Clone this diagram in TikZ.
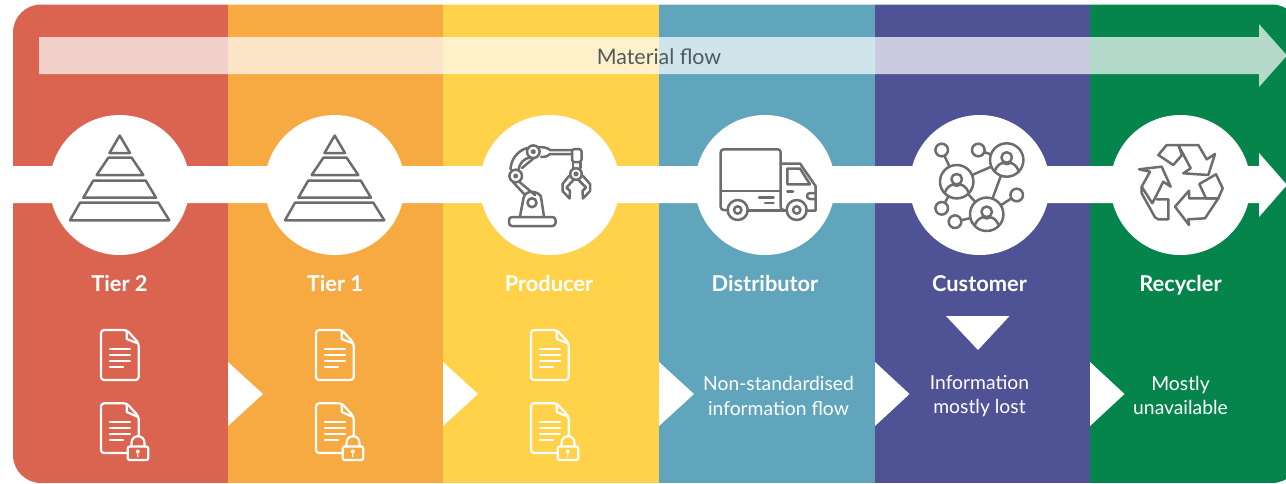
\documentclass[tikz,border=0pt]{standalone}
\usepackage{fontspec}
\setmainfont{Lato}
\definecolor{cred}{HTML}{DB6451}
\definecolor{corange}{HTML}{F6AA41}
\definecolor{cyellow}{HTML}{FFD24A}
\definecolor{cteal}{HTML}{60A5BC}
\definecolor{cindigo}{HTML}{505296}
\definecolor{cgreen}{HTML}{05854B}
\definecolor{cicon}{HTML}{6D6D6D}
\definecolor{cflow}{HTML}{4F5A5E}
\tikzset{
  iconline/.style={draw=cicon,line width=2.5pt,line join=round,line cap=round},
  docline/.style={draw=white,line width=2.2pt,line join=round,line cap=round},
  whitedisc/.style={circle,fill=white,minimum size=140pt,inner sep=0pt},
  stage/.style={text=white,font=\bfseries\fontsize{21.8}{24}\selectfont,anchor=base},
  note/.style={text=white,font=\fontsize{19.3}{24.5}\selectfont,align=center,anchor=center},
}
\newcommand{\pyramidicon}[1]{%
  \begin{scope}[shift={(#1,0)},iconline]
    \draw (119.7,135.5) -- (130,153) -- (109.5,153) -- cycle;
    \draw (108.5,157.5) -- (131.5,157.5) -- (143.3,175) -- (96.7,175) -- cycle;
    \draw (93.3,180.5) -- (145.7,180.5) -- (156,197.7) -- (83.3,197.7) -- cycle;
    \draw (80,202.7) -- (158.3,202.7) -- (169.3,220.3) -- (70,220.3) -- cycle;
  \end{scope}}
\newcommand{\docbody}[2]{%
  \begin{scope}[shift={(#1,#2)},docline]
    \draw[rounded corners=3pt] (126.7,330) -- (101,330) -- (101,380) -- (138.7,380) -- (138.7,343) -- cycle;
    \draw (126.7,331) -- (126.7,339) -- (137,343);
    \draw (110,349.3) -- (130,349.3) (110,355) -- (130,355) (110,361) -- (130,361) (110,367.3) -- (123,367.3);
  \end{scope}}
\newcommand{\lockdoc}[1]{%
  \begin{scope}[shift={(#1,0)},docline]
    \draw[rounded corners=3pt] (127.5,453) -- (101,453) -- (101,403.3) -- (126.7,403.3) -- (138.7,416.5) -- (138.7,436);
    \draw (126.7,404) -- (126.7,412) -- (137,416.5);
    \draw (110,422.3) -- (130,422.3) (110,428) -- (130,428) (110,434) -- (130,434) (110,440.3) -- (123,440.3);
    \draw[rounded corners=2pt] (127.7,446.5) rectangle (148.3,460);
    \draw (131.5,446.5) -- (131.5,443) .. controls (131.5,434) and (144.5,434) .. (144.5,443) -- (144.5,446.5);
    \draw[line width=1.3pt] (137.8,451.5) circle[radius=1.5] (137.8,453) -- (137.8,456.5);
  \end{scope}}
\newcommand{\person}[3]{% x y radius
  \draw[iconline] (#1,#2) circle[radius=#3];
  \draw[iconline] (#1,#2-2.5) circle[radius=5.3];
  \draw[iconline] (#1-12,#2+11) .. controls (#1-10,#2+5.5) and (#1-6,#2+3) .. (#1-3.5,#2+3)
    .. controls (#1-1,#2+4.5) and (#1+1,#2+4.5) .. (#1+3.5,#2+3)
    .. controls (#1+6,#2+3) and (#1+10,#2+5.5) .. (#1+12,#2+11);}
\newcommand{\smalldot}[2]{\draw[iconline,fill=white] (#1,#2) circle[radius=6.3];}
\begin{document}
\begin{tikzpicture}[x=1pt,y=-1pt]
\useasboundingbox (0,0) rectangle (1286,483);
\begin{scope}
  \clip[rounded corners=28pt] (13,483) -- (13,4.5) -- (1300,4.5) -- (1300,483) -- cycle;
  \fill[cred] (13,0) rectangle (228,483);
  \fill[corange] (228,0) rectangle (443,483);
  \fill[cyellow] (443,0) rectangle (659,483);
  \fill[cteal] (659,0) rectangle (875,483);
  \fill[cindigo] (875,0) rectangle (1090,483);
  \fill[cgreen] (1090,0) rectangle (1286,483);
\end{scope}
% material flow arrow
\fill[white,opacity=0.7] (39,37) -- (1259,37) -- (1259,24) -- (1287,55.5) -- (1259,87) -- (1259,74) -- (39,74) -- cycle;
\node[text=cflow,font=\fontsize{21.4}{24}\selectfont] (flow) at (659,57) {Material flow};
% white band
\fill[white] (13,166) -- (1259,166) -- (1259,153) -- (1287,185) -- (1259,217) -- (1259,203) -- (13,203) -- cycle;
% discs
\node[whitedisc] (d1) at (119.7,185) {};
\node[whitedisc] (d2) at (334.7,185) {};
\node[whitedisc] (d3) at (549.7,185) {};
\node[whitedisc] (d4) at (765,185) {};
\node[whitedisc] (d5) at (979.7,185) {};
\node[whitedisc] (d6) at (1180.5,185) {};
% pyramids
\pyramidicon{0}
\pyramidicon{215}
% robot
\begin{scope}[iconline]
  \draw[rounded corners=3pt] (509,217) rectangle (555.5,226);
  \draw (520,216.5) -- (523.5,198) .. controls (526,188) and (540,192) .. (541,197) -- (544,216.5);
  \draw (532,202.7) circle[radius=4.5];
  \draw (519.5,182) -- (535,195) (513,182) -- (525,195);
  \draw (515.7,176) circle[radius=6.3] (515.7,176) circle[radius=1.5];
  \draw (533.3,151.7) circle[radius=6.3] (533.3,151.7) circle[radius=1.5];
  \draw (510.5,169.5) .. controls (510.5,160) and (518,150) .. (527.5,148);
  \draw (518.5,170) .. controls (519,164) and (524,158) .. (530,157.5);
  \draw (522,168) -- (534,158);
  \draw (538,147) .. controls (544,147) and (548,148) .. (550,150) -- (572,150)
    (541,157) .. controls (546,157) and (548,156) .. (550,154) -- (572,154);
  \draw[rounded corners=2.5pt] (572,149) rectangle (581.5,162);
  \draw (573,162) -- (573,168) (580.5,162) -- (580.5,168);
  \draw (576,174) circle[radius=5.8] (576,174) circle[radius=1.5];
  \draw (569,176) -- (562.5,184) -- (562.5,191) -- (569.5,198.5) -- (570,191) -- (566.5,187.5) -- (573,180.5);
  \draw (583,176) -- (590,184) -- (590,191) -- (583,198.5) -- (582.5,191) -- (586,187.5) -- (579,180.5);
\end{scope}
% truck
\begin{scope}[iconline]
  \draw[rounded corners=3pt] (727,210) -- (720.7,210) -- (720.7,149.3) -- (780.7,149.3) -- (780.7,210) -- (786,210);
  \draw (720.7,191) -- (780.7,191);
  \draw (780.7,163.5) -- (800,163.5) -- (815.5,186) -- (815.5,210.5) -- (806.5,210.5);
  \draw (787.3,168.5) -- (800,168.5) -- (810,184.3) -- (787.3,184.3) -- cycle;
  \draw (737.7,210) circle[radius=10] (737.7,210) circle[radius=3.7];
  \draw (796.7,210) circle[radius=10] (796.7,210) circle[radius=3.7];
  \draw (747.7,210.5) -- (786.7,210.5);
  \draw (759,197.3) -- (773.5,197.3) (765,203) -- (773.5,203);
  \draw (787.3,191.7) -- (793,191.7);
  \draw (815,193) -- (810,193) .. controls (806,193) and (806,199) .. (810,199) -- (815,199);
\end{scope}
% network
\draw[iconline] (956.7,181.7) -- (1006.7,160) (1006.7,160) -- (986.7,214.3) (956.7,181.7) -- (986.7,214.3)
  (941.7,150) -- (956.7,181.7) (978.3,150) -- (1006.7,160) (1016.7,195) -- (986.7,214.3)
  (941.7,208.3) -- (956.7,181.7) (955,221.7) -- (986.7,214.3);
\fill[white] (956.7,181.7) circle[radius=16.7] (1006.7,160) circle[radius=16.7] (986.7,214.3) circle[radius=16.7];
\person{956.7}{181.7}{16.7}
\person{1006.7}{160}{16.7}
\person{986.7}{214.3}{16.7}
\smalldot{941.7}{150}
\smalldot{978.3}{150}
\smalldot{1016.7}{195}
\smalldot{941.7}{208.3}
\smalldot{955}{221.7}
% recycle
\begin{scope}[iconline]
  \draw (1158.3,155) -- (1166.7,145) -- (1178.3,145) -- (1182,155) -- (1173.3,165) -- cycle;
  \draw (1178.3,145) -- (1198.3,145) -- (1206.7,159.3) -- (1215,154) -- (1208.3,175) -- (1183.3,173.3) -- (1190.7,168.3) -- cycle;
  \draw (1139,169.3) -- (1161.7,166.7) -- (1170.7,186.7) -- (1163.3,181.7) -- (1152.3,203.3) -- (1141.7,186.7) -- (1150,171.7) -- cycle;
  \draw (1141.7,186.7) -- (1141.7,193.3) -- (1155,217.3) -- (1158.3,219.3) -- (1168.3,219.3) -- (1168.3,199.3) -- (1156.7,199.3);
  \draw (1199.3,184) -- (1216,174.3) -- (1222.7,188.3) -- (1218.3,198.3) -- (1206,198.3) -- cycle;
  \draw (1218.3,198.3) -- (1205,218.3) -- (1188.3,219.3) -- (1189,225) -- (1175,206.7) -- (1189,190.7) -- (1189,198.3) -- cycle;
\end{scope}
% stage labels
\node[stage] (t2) at (119.5,291) {Tier 2};
\node[stage] (t1) at (335,291) {Tier 1};
\node[stage] (pr) at (549,291) {Producer};
\node[stage] (di) at (765,291) {Distributor};
\node[stage] (cu) at (979.5,291) {Customer};
\node[stage] (re) at (1180.5,291) {Recycler};
% documents
\docbody{0}{0}\docbody{215}{0}\docbody{430}{0}
\lockdoc{0}\lockdoc{215}\lockdoc{430}
% triangles
\fill[white] (228,362) -- (263,394) -- (228,426) -- cycle;
\fill[white] (443,362) -- (478,394) -- (443,426) -- cycle;
\fill[white] (659,362) -- (694,394) -- (659,426) -- cycle;
\fill[white] (875,362) -- (909.5,394) -- (875,426) -- cycle;
\fill[white] (1090,362) -- (1124.5,394) -- (1090,426) -- cycle;
\fill[white] (946,316) -- (1009.5,316) -- (978,350) -- cycle;
% notes
\node[note] (n1) at (778.5,396) {Non-standardised\\information flow};
\node[note] (n2) at (979.5,396) {Information\\mostly lost};
\node[note] (n3) at (1180.5,395.5) {Mostly\\unavailable};
\end{tikzpicture}
\end{document}
